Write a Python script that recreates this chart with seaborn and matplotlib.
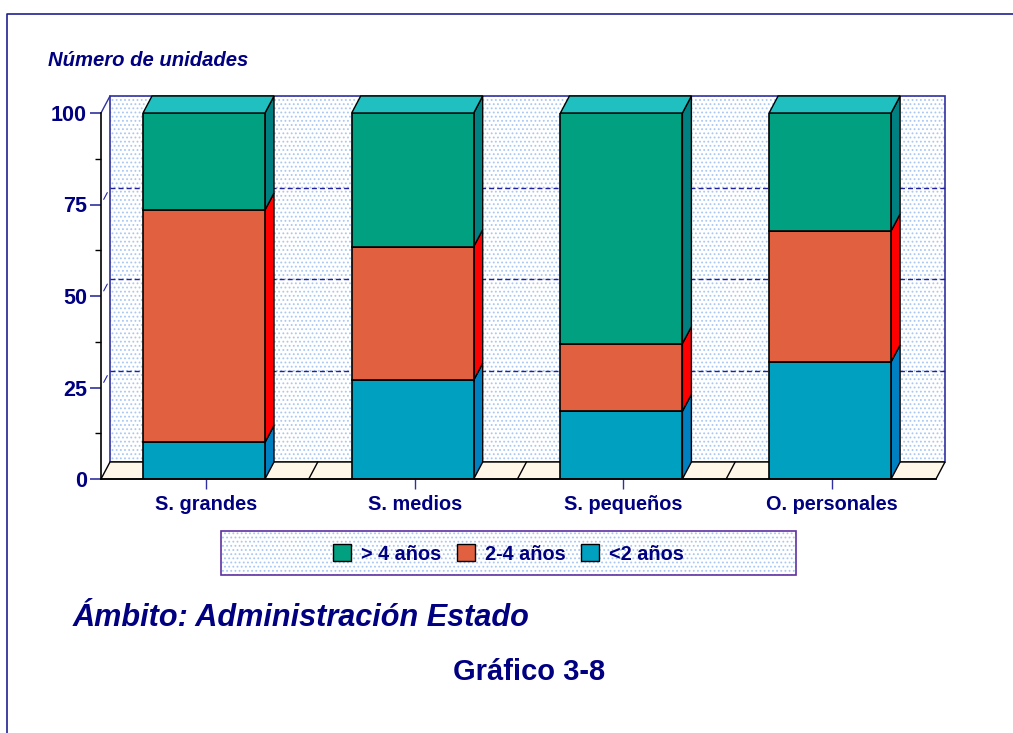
import matplotlib
matplotlib.use("Agg")
import matplotlib.pyplot as plt
from matplotlib.patches import Polygon, Rectangle, Patch
from matplotlib.lines import Line2D
import seaborn as sns
import pandas as pd

categories = ["S. grandes", "S. medios", "S. pequeños", "O. personales"]
menos_2 = [10, 27, 18.5, 32]
de_2_a_4 = [63.5, 36.5, 18.5, 35.8]
mas_4 = [26.5, 36.5, 63, 32.2]
y_ticks = [0, 25, 50, 75, 100]
y_minor = [12.5, 37.5, 62.5, 87.5]
grid_levels = [25, 50, 75]

NAVY = "#000080"
W, H = 1013, 733
sns.set_style("white")
plt.rcParams["font.family"] = ["Liberation Sans", "DejaVu Sans"]
plt.rcParams["hatch.linewidth"] = 0.8

fig = plt.figure(figsize=(W / 100, H / 100), dpi=100)
fig.patch.set_facecolor("white")
# front plane of the chart in pixels
L, R, T, B = 101, 936, 113, 479
ax = fig.add_axes([L / W, 1 - B / H, (R - L) / W, (B - T) / H])
ax.patch.set_alpha(0)

PX = 208.7
x0 = (L - 204) / PX
x1 = (R - 204) / PX
PY = (B - T) / 100
DX, DY = 9 / PX, 17 / PY      # depth of the 3-D box in data units
BW = 122 / PX

series = [
    ("<2 años", menos_2, "#00A0C0", "#0080C0"),
    ("2-4 años", de_2_a_4, "#E06040", "#FF0000"),
    ("> 4 años", mas_4, "#00A080", "#008080"),
]
bottom = [0.0] * 4
for name, vals, front, side in series:
    df = pd.DataFrame({"cat": categories, "v": vals})
    sns.barplot(data=df, x="cat", y="v", order=categories, bottom=bottom, ax=ax,
                color=front, saturation=1, width=BW, edgecolor="black", linewidth=1.2,
                zorder=5, errorbar=None)
    for i, v in enumerate(vals):
        xr = i + BW / 2
        b, t = bottom[i], bottom[i] + v
        ax.add_patch(Polygon([(xr, b), (xr + DX, b + DY), (xr + DX, t + DY), (xr, t)],
                             closed=True, fc=side, ec="black", lw=1.0, zorder=4, clip_on=False))
    bottom = [b + v for b, v in zip(bottom, vals)]

for i, t in enumerate(bottom):
    xl, xr = i - BW / 2, i + BW / 2
    ax.add_patch(Polygon([(xl, t), (xl + DX, t + DY), (xr + DX, t + DY), (xr, t)],
                         closed=True, fc="#20C0C0", ec="black", lw=1.0, zorder=4, clip_on=False))

# back wall
ax.add_patch(Rectangle((x0 + DX, DY), x1 - x0, 100, fc="white", ec="#A8C8F4", hatch="....",
                       lw=0, zorder=0.5, clip_on=False))
ax.add_patch(Rectangle((x0 + DX, DY), x1 - x0, 100, fc="none", ec="#3030A0", lw=1.2,
                       zorder=1, clip_on=False))
# floor
ax.add_patch(Polygon([(x0, 0), (x0 + DX, DY), (x1 + DX, DY), (x1, 0)], closed=True,
                     fc="#FFF8E8", ec="black", lw=1.0, zorder=1.5, clip_on=False))
for i in range(3):
    xm = i + 0.5 + 0.002
    ax.plot([xm, xm + DX], [0, DY], color="black", lw=1.0, zorder=2, clip_on=False)
# left wall edge and dashed levels
ax.plot([x0, x0 + DX], [100, 100 + DY], color="#3030A0", lw=1.0, zorder=2, clip_on=False)
for g in grid_levels:
    ax.plot([x0 + DX, x1 + DX], [g + DY, g + DY], color="#2020A0", lw=1.0,
            dashes=(3.6, 2.2), zorder=2, clip_on=False)
    ax.plot([x0 + DX * 0.3, x0 + DX * 0.7], [g + DY * 0.3, g + DY * 0.7], color="#2020A0", lw=0.8,
            zorder=2, clip_on=False)

ax.set_xlim(x0, x1)
ax.set_ylim(0, 100)
ax.set_xlabel("")
ax.set_ylabel("")
sns.despine(ax=ax)
for s in ("left", "bottom"):
    ax.spines[s].set_color("black")
    ax.spines[s].set_linewidth(1.2)
    ax.spines[s].set_zorder(6)

ax.set_xticks([i + 2 / PX for i in range(4)], categories)
ax.set_yticks(y_ticks)
ax.set_yticks(y_minor, minor=True)
ax.tick_params(axis="x", which="major", bottom=True, length=7, width=1, color="#3030A0", pad=4.4,
               labelsize=14.3, labelcolor=NAVY)
ax.tick_params(axis="y", which="major", left=True, length=8, width=1.2, color="#3030A0", pad=2,
               labelsize=15.5, labelcolor=NAVY)
ax.tick_params(axis="y", which="minor", left=True, length=4.5, width=1.0, color="black")
for lab in ax.get_xticklabels() + ax.get_yticklabels():
    lab.set_fontweight("bold")

def px(x, y):
    return x / W, 1 - y / H

# outer frame
fig.add_artist(Line2D([7 / W, 7 / W, 1], [0, 1 - 14 / H, 1 - 14 / H], color="#202090", lw=1.2))

fig.text(*px(48, 60), "Número de unidades", color=NAVY, fontsize=14.6, fontweight="bold",
         fontstyle="italic", va="center", ha="left")
fig.text(*px(73, 618), "Ámbito: Administración Estado", color=NAVY, fontsize=22.1,
         fontweight="bold", fontstyle="italic", va="center", ha="left")
fig.text(*px(529, 672), "Gráfico 3-8", color=NAVY, fontsize=21, fontweight="bold",
         va="center", ha="center")

# legend box
lx, ly = px(221, 575)
fig.add_artist(Rectangle((lx, ly), 575 / W, 44 / H, transform=fig.transFigure, fc="white",
                         ec="#A8C8F4", hatch="....", lw=0, zorder=1))
fig.add_artist(Rectangle((lx, ly), 575 / W, 44 / H, transform=fig.transFigure, fc="none",
                         ec="#6030A0", lw=1.2, zorder=1.1))
handles = [Patch(fc=s[2], ec="black", lw=1.0, label=s[0]) for s in reversed(series)]
leg = fig.legend(handles=handles, loc="center", bbox_to_anchor=px(508.5, 554), ncol=3, frameon=False,
                 fontsize=14.3, handlelength=0.92, handleheight=0.92, columnspacing=0.78,
                 handletextpad=0.5, borderpad=0, borderaxespad=0)
leg.set_zorder(3)
for t in leg.get_texts():
    t.set_color(NAVY)
    t.set_fontweight("bold")

fig.savefig("out.png", dpi=100)
